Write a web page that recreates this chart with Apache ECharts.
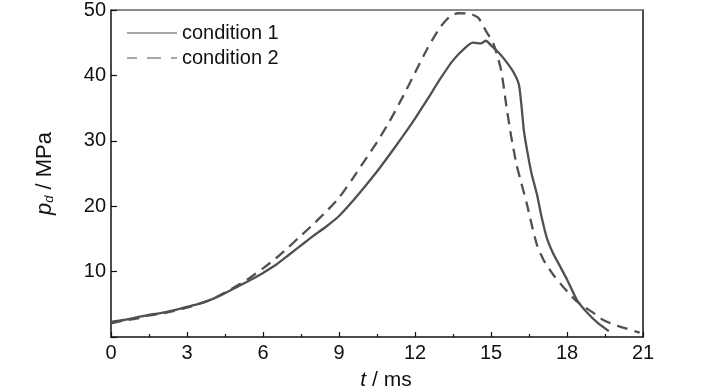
<!DOCTYPE html>
<html>
<head>
<meta charset="utf-8">
<script src="https://cdn.jsdelivr.net/npm/echarts@6/dist/echarts.min.js"></script>
<style>html,body{margin:0;padding:0;background:#fff}#c{width:728px;height:390px}</style>
</head>
<body>
<div id="c"></div>
<script>
var xTicks = [0, 3, 6, 9, 12, 15, 18, 21];
var yTicks = [10, 20, 30, 40, 50];
var seriesNames = ['condition 1', 'condition 2'];

var t1 = [0, 0.5, 1, 1.5, 2, 2.5, 3, 3.5, 4, 4.5, 5, 5.5, 6, 6.5, 7, 7.5, 8, 8.5, 9, 9.5, 10, 10.5, 11, 11.5, 12, 12.5, 13, 13.5, 14, 14.3, 14.6, 14.8, 15, 15.3, 15.6, 15.9, 16.1, 16.2, 16.3, 16.45, 16.6, 16.82, 17.0, 17.2, 17.45, 17.74, 18.0, 18.4, 18.8, 19.2, 19.65];
var p1 = [2.3, 2.6, 3.0, 3.4, 3.7, 4.1, 4.6, 5.1, 5.8, 6.7, 7.7, 8.7, 9.8, 11.0, 12.5, 14.0, 15.5, 16.9, 18.5, 20.6, 22.9, 25.3, 27.9, 30.6, 33.4, 36.4, 39.5, 42.3, 44.3, 45.0, 44.9, 45.3, 44.6, 43.5, 42.1, 40.4, 38.6, 35.5, 31.5, 28.0, 25.0, 21.7, 18.3, 15.2, 12.8, 10.7, 8.8, 5.6, 3.7, 2.2, 0.9];

var t2 = [0, 0.5, 1, 1.5, 2, 2.5, 3, 3.5, 4, 4.5, 5, 5.5, 6, 6.5, 7, 7.5, 8, 8.5, 9, 9.5, 10, 10.5, 11, 11.5, 12, 12.5, 13, 13.4, 13.7, 14.2, 14.5, 14.8, 15.1, 15.4, 15.6, 15.8, 16.0, 16.2, 16.4, 16.6, 16.82, 17.1, 17.48, 18.0, 18.4, 19.0, 19.45, 20.0, 20.87];
var p2 = [2.1, 2.5, 2.8, 3.3, 3.6, 4.0, 4.5, 5.1, 5.8, 6.8, 7.9, 9.1, 10.5, 12.0, 13.7, 15.5, 17.3, 19.2, 21.3, 24.0, 26.9, 29.8, 33.0, 36.6, 40.4, 44.2, 47.4, 49.1, 49.5, 49.4, 48.8, 46.8, 44.8, 40.8, 35.5, 30.6, 26.5, 23.5, 20.6, 17.3, 14.0, 11.6, 9.4, 7.0, 5.4, 3.8, 2.55, 1.7, 0.67];

function pairs(t, p) { return t.map(function (v, i) { return [v, p[i]]; }); }

var FONT = 'Liberation Sans, Arial, sans-serif';
var LINE = '#505050';

var chart = echarts.init(document.getElementById('c'), null, {renderer: 'canvas'});
chart.setOption({
  animation: false,
  backgroundColor: '#fff',
  grid: {left: 111, top: 10, right: 85, bottom: 53, containLabel: false, outerBoundsMode: 'none'},
  legend: {
    orient: 'vertical', left: 127, top: 23, padding: 0, itemWidth: 50, itemHeight: 2.6, itemGap: 5,
    data: [
      {name: seriesNames[0], icon: 'path://M0,0h50v1h-50z'},
      {name: seriesNames[1], icon: 'path://M0,0h10v1h-10z M20,0h14v1h-14z M44,0h6v1h-6z'}
    ],
    textStyle: {fontFamily: FONT, fontSize: 20, color: '#111', lineHeight: 20}
  },
  xAxis: [{
    type: 'value', min: 0, max: 21, interval: 3,
    name: '{i|t}{n| / ms}', nameLocation: 'middle', nameGap: 33,
    nameTextStyle: {padding: [0, 0, 0, 18], rich: {i: {fontFamily: FONT, fontSize: 21, fontStyle: 'italic', color: '#111'}, n: {fontFamily: FONT, fontSize: 21, color: '#111'}}},
    axisLine: {show: true, lineStyle: {color: '#111', width: 1.5}},
    axisTick: {show: true, inside: true, length: 5, lineStyle: {color: '#111', width: 1.2}},
    minorTick: {show: true, splitNumber: 2, length: 3, lineStyle: {color: '#111', width: 1.2}},
    axisLabel: {fontFamily: FONT, fontSize: 20, color: '#111', margin: 6,
      formatter: function (v) { return xTicks.indexOf(v) >= 0 ? String(v) : ''; }},
    splitLine: {show: false}
  }, {
    type: 'value', min: 0, max: 21, position: 'top',
    axisLine: {show: true, onZero: false, lineStyle: {color: '#666', width: 1.5}},
    axisTick: {show: false}, axisLabel: {show: false}, splitLine: {show: false}
  }],
  yAxis: [{
    type: 'value', min: 0, max: 50, interval: 10,
    name: '{i|p}{s|d}{n| / MPa}', nameLocation: 'middle', nameGap: 55, nameRotate: 90,
    nameTextStyle: {rich: {
      i: {fontFamily: FONT, fontSize: 22, fontStyle: 'italic', color: '#111'},
      s: {fontFamily: FONT, fontSize: 13, fontStyle: 'italic', color: '#111', padding: [9, 0, 0, 0]},
      n: {fontFamily: FONT, fontSize: 22, color: '#111'}}},
    axisLine: {show: true, lineStyle: {color: '#111', width: 1.5}},
    axisTick: {show: true, inside: true, length: 6, lineStyle: {color: '#111', width: 1.2}},
    axisLabel: {fontFamily: FONT, fontSize: 20, color: '#111', margin: 5,
      formatter: function (v) { return yTicks.indexOf(v) >= 0 ? String(v) : ''; }},
    splitLine: {show: false}
  }, {
    type: 'value', min: 0, max: 50, position: 'right',
    axisLine: {show: true, onZero: false, lineStyle: {color: '#111', width: 1.5}},
    axisTick: {show: false}, axisLabel: {show: false}, splitLine: {show: false}
  }],
  series: [{
    name: seriesNames[0], type: 'line', showSymbol: false, symbol: 'none',
    data: pairs(t1, p1), smooth: 0.2,
    lineStyle: {color: LINE, width: 2.3, type: 'solid'}, itemStyle: {color: LINE}
  }, {
    name: seriesNames[1], type: 'line', showSymbol: false, symbol: 'none',
    data: pairs(t2, p2), smooth: 0.2,
    lineStyle: {color: LINE, width: 2.3, type: [11, 7]}, itemStyle: {color: LINE}
  }]
});
</script>
</body>
</html>
